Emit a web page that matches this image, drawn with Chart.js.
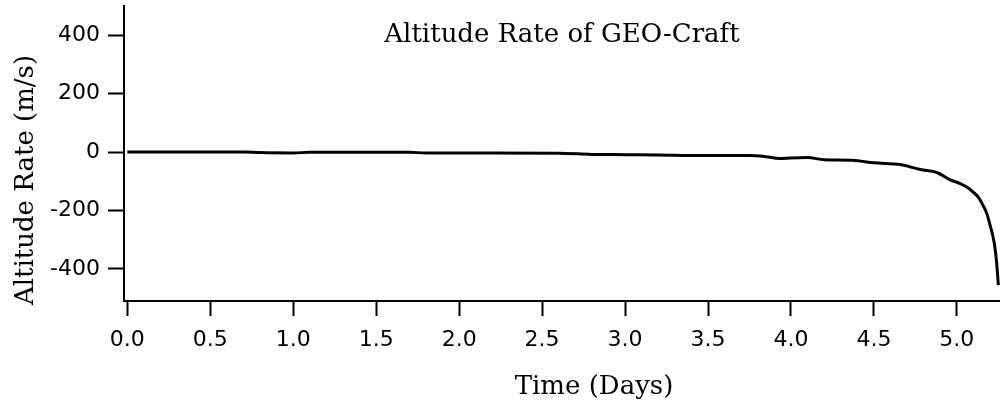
<!DOCTYPE html>
<html>
<head>
<meta charset="utf-8">
<script src="https://cdn.jsdelivr.net/npm/chart.js@4"></script>
<style>
  html, body { margin: 0; padding: 0; background: #fff; }
  #wrap { width: 1000px; height: 410px; }
</style>
</head>
<body>
<div id="wrap"><canvas id="rateChart" width="1000" height="410"></canvas></div>
<script>
// Data
const days = [0, 0.25, 0.5, 0.7, 0.8, 1.0, 1.1, 1.4, 1.7, 1.8, 2.2, 2.6, 2.8, 3.0, 3.2, 3.45, 3.75, 3.85, 3.93, 4.0, 4.1, 4.2, 4.37, 4.5, 4.66, 4.78, 4.88, 4.96, 5.02, 5.06, 5.1, 5.13, 5.16, 5.18, 5.2, 5.22, 5.23, 5.24, 5.25];
const rates = [0, 0, 0, 0, -2, -3, -1, -1, -1, -3, -3, -4, -8, -9, -10, -12, -12, -16, -22, -20, -19, -26, -28, -37, -43, -60, -70, -95, -108, -120, -138, -155, -185, -210, -250, -295, -330, -380, -456];

const xTicks = [0, 0.5, 1, 1.5, 2, 2.5, 3, 3.5, 4, 4.5, 5];
const yTicks = [-400, -200, 0, 200, 400];

const chartTitle = 'Altitude Rate of GEO-Craft';
const xTitle = 'Time (Days)';
const yTitle = 'Altitude Rate (m/s)';

const serif = '"DejaVu Serif", serif';
const sans = '"DejaVu Sans", sans-serif';

// Draw titles where the reference puts them
const titlesPlugin = {
    id: 'titles',
    afterDraw(chart) {
        const ctx = chart.ctx;
        const area = chart.chartArea;
        ctx.save();
        ctx.fillStyle = '#000';
        ctx.font = '26px ' + serif;
        ctx.textAlign = 'center';
        ctx.textBaseline = 'alphabetic';
        ctx.fillText(chartTitle, (area.left + area.right) / 2, 42);
        ctx.fillText(xTitle, 594, 394);
        ctx.translate(33, 180);
        ctx.rotate(-Math.PI / 2);
        ctx.fillText(yTitle, 0, 0);
        ctx.restore();
    }
};

const ctx = document.getElementById('rateChart');

new Chart(ctx, {
    type: 'line',
    data: {
        datasets: [{
            data: days.map((d, i) => ({ x: d, y: rates[i] })),
            borderColor: '#000',
            borderWidth: 3,
            pointRadius: 0,
            fill: false,
            cubicInterpolationMode: 'monotone'
        }]
    },
    options: {
        responsive: false,
        animation: false,
        layout: { padding: { top: 6, right: 0, left: 0, bottom: 0 } },
        plugins: {
            legend: { display: false },
            tooltip: { enabled: false }
        },
        scales: {
            x: {
                type: 'linear',
                min: -0.02,
                max: 5.26,
                afterBuildTicks: axis => { axis.ticks = xTicks.map(v => ({ value: v })); },
                afterFit: scale => {
                    scale.height = 109;
                    scale.paddingLeft = 0;
                    scale.paddingRight = 0;
                },
                border: { color: '#000', width: 2 },
                grid: { drawOnChartArea: false, tickLength: 15, tickWidth: 2, tickColor: '#000' },
                ticks: {
                    color: '#000',
                    font: { family: sans, size: 22 },
                    padding: 11,
                    maxRotation: 0,
                    callback: v => v.toFixed(1)
                }
            },
            y: {
                min: -510,
                max: 500,
                afterBuildTicks: axis => { axis.ticks = yTicks.map(v => ({ value: v })); },
                afterFit: scale => {
                    scale.width = 124;
                    scale.paddingTop = 0;
                    scale.paddingBottom = 0;
                },
                border: { color: '#000', width: 2 },
                grid: { drawOnChartArea: false, tickLength: 16, tickWidth: 2, tickColor: '#000' },
                ticks: {
                    color: '#000',
                    font: { family: sans, size: 22 },
                    padding: 8
                }
            }
        }
    },
    plugins: [titlesPlugin]
});
</script>
</body>
</html>
